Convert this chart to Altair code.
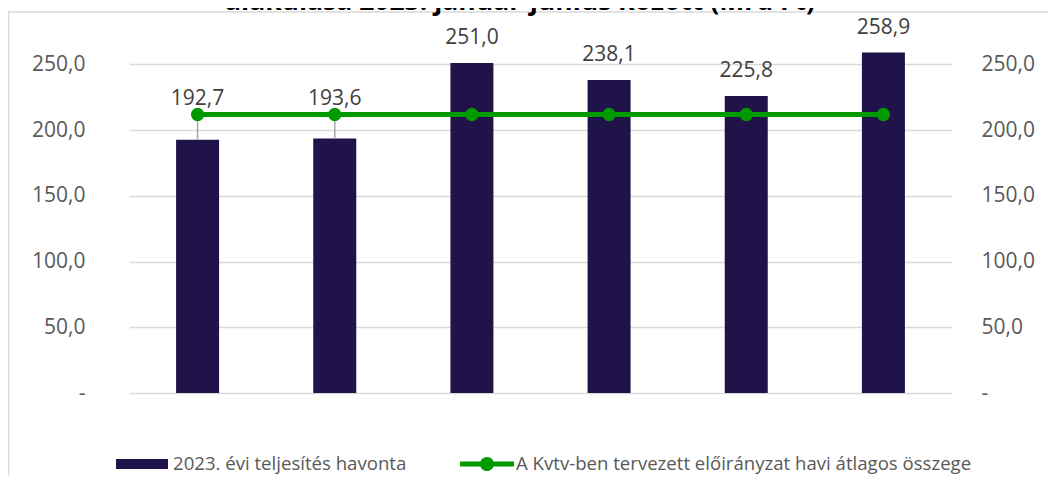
import altair as alt
import pandas as pd

months = ["I. hó", "II. hó", "III. hó", "IV. hó", "V. hó", "VI. hó"]
actual = [192.7, 193.6, 251.0, 238.1, 225.8, 258.9]
planned = [211.8, 211.8, 211.8, 211.8, 211.8, 211.8]
bar_series = "2023. évi teljesítés havonta"
line_series = "A Kvtv-ben tervezett előirányzat havi átlagos összege"
y_ticks = [0, 50, 100, 150, 200, 250]
title_text = "alakulása 2023. január-június között (Mrd Ft)"

NAVY = "#20134a"
GREEN = "#009a00"
GRID = "#d9d9d9"
AXIS_TXT = "#595959"
LBL_TXT = "#404040"
FONT = "Open Sans"

df = pd.DataFrame({
    "month": months,
    "actual": actual,
    "planned": planned,
    "s1": [bar_series] * 6,
    "s2": [line_series] * 6,
})

num_expr = "replace(format(datum.{f}, '.1f'), '.', ',')"
axis_label_expr = "datum.value == 0 ? '-' : replace(format(datum.value, '.1f'), '.', ',')"

yscale = alt.Scale(domain=[0, 270], nice=False)

x = alt.X(
    "month:N", sort=months,
    scale=alt.Scale(paddingInner=0, paddingOuter=0),
    axis=alt.Axis(title=None, labelAngle=0, labelFontSize=20.5, labelFont=FONT,
                  labelColor=AXIS_TXT, labelPadding=16, ticks=False,
                  domain=True, domainColor=GRID, domainWidth=1.5, grid=False),
)

base = alt.Chart(df)

bars = base.mark_bar(size=43).encode(
    x=x,
    y=alt.Y("actual:Q", scale=yscale,
            axis=alt.Axis(title=None, values=y_ticks, labelExpr=axis_label_expr,
                          grid=True, gridColor=GRID, gridWidth=1.5, ticks=False,
                          domain=False, labelPadding=44, labelFontSize=21,
                          labelFont=FONT, labelColor=AXIS_TXT, orient="left")),
    color=alt.Color("s1:N", scale=alt.Scale(range=[NAVY]),
                    legend=alt.Legend(orient="none", legendX=-13, legendY=400,
                                      title=None, padding=0,
                                      symbolType="M-1,-0.19H1V0.19H-1Z",
                                      symbolSize=2704, symbolStrokeWidth=0,
                                      symbolOpacity=1,
                                      labelFontSize=18.6, labelFont=FONT,
                                      labelColor=AXIS_TXT, labelOffset=5,
                                      labelLimit=700)),
)

below = base.transform_filter("datum.actual < datum.planned")
above = base.transform_filter("datum.actual >= datum.planned")

leaders = below.mark_rule(color="#a6a6a6", strokeWidth=1.5).encode(
    x=alt.X("month:N", sort=months, axis=None),
    y=alt.Y("actual:Q", scale=yscale, axis=None),
    y2="planned:Q",
)

line = base.mark_line(color=GREEN, strokeWidth=5).encode(
    x=alt.X("month:N", sort=months, axis=None),
    y=alt.Y("planned:Q", scale=yscale,
            axis=alt.Axis(title=None, values=y_ticks, labelExpr=axis_label_expr,
                          grid=False, ticks=False, domain=False, labelPadding=29,
                          labelFontSize=21, labelFont=FONT, labelColor=AXIS_TXT,
                          orient="right")),
)

points = base.mark_point(filled=True, size=177, opacity=1).encode(
    x=alt.X("month:N", sort=months, axis=None),
    y=alt.Y("planned:Q", scale=yscale, axis=None),
    color=alt.Color("s2:N", scale=alt.Scale(range=[GREEN]),
                    legend=alt.Legend(orient="none", legendX=331, legendY=399,
                                      title=None, padding=0,
                                      symbolType="M-1,-0.09H1V0.09H-1Z M-0.26,0A0.26,0.26,0,1,1,0.26,0A0.26,0.26,0,1,1,-0.26,0Z",
                                      symbolSize=2916, symbolStrokeWidth=0,
                                      symbolOpacity=1,
                                      labelFontSize=18.6, labelFont=FONT,
                                      labelColor=AXIS_TXT, labelOffset=2,
                                      labelLimit=700)),
)

labels_above = above.mark_text(fontSize=21, font=FONT, color=LBL_TXT,
                               baseline="middle", dy=-25).encode(
    x=alt.X("month:N", sort=months, axis=None),
    y=alt.Y("actual:Q", scale=yscale, axis=None),
    text=alt.Text("lbl:N"),
).transform_calculate(lbl=num_expr.format(f="actual"))

labels_below = below.mark_text(fontSize=21, font=FONT, color=LBL_TXT,
                               baseline="middle", dy=-16).encode(
    x=alt.X("month:N", sort=months, axis=None),
    y=alt.Y("planned:Q", scale=yscale, axis=None),
    text=alt.Text("lbl:N"),
).transform_calculate(lbl=num_expr.format(f="actual"))

frame_df = pd.DataFrame({"title": [title_text]})
frame = alt.Chart(frame_df)
frame_top = frame.mark_rule(color=GRID, strokeWidth=1.5).encode(
    x=alt.value(-121), x2=alt.value(1000), y=alt.value(-26))
frame_left = frame.mark_rule(color=GRID, strokeWidth=1.5).encode(
    x=alt.value(-120.5), y=alt.value(-26), y2=alt.value(600))
title = frame.mark_text(fontSize=26.5, font=FONT, fontWeight="bold", color="#000000",
                        align="center", baseline="alphabetic").encode(
    x=alt.value(391), y=alt.value(-28.5), text="title:N")

chart = alt.layer(
    frame_top, frame_left, title,
    bars, leaders, line, points, labels_above, labels_below,
).resolve_scale(color="independent").resolve_axis(y="independent").properties(
    width=823, height=355,
    padding={"left": 121, "top": 30, "right": 96, "bottom": 83},
    autosize=alt.AutoSizeParams(type="none"),
).configure_view(stroke=None)

chart.save("out.html", embed_options={"renderer": "svg", "actions": False})
